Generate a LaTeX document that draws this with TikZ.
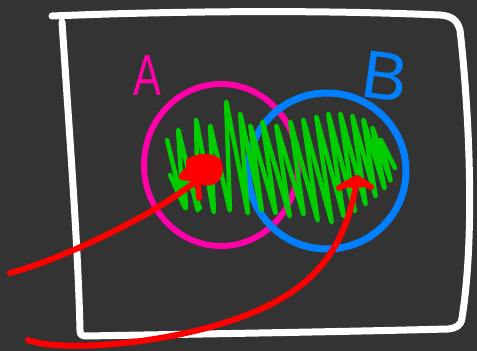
\documentclass[tikz,border=0pt]{standalone}
\usepackage{fontspec}
\setmainfont{Liberation Sans}
\usetikzlibrary{shapes.geometric}
\definecolor{bg}{HTML}{333333}
\definecolor{penpink}{HTML}{FF00AA}
\definecolor{penblue}{HTML}{0080FF}
\definecolor{pengreen}{HTML}{00CC00}
\definecolor{penred}{HTML}{FF0000}
\tikzset{
  frame/.style={draw=white, line width=7},
  ringA/.style={draw=penpink, line width=6, ellipse, inner sep=0pt},
  ringB/.style={draw=penblue, line width=7, ellipse, inner sep=0pt},
  scribble/.style={draw=pengreen, line width=4.5, rounded corners=3},
  redpen/.style={draw=penred, line width=6},
  lettertext/.style={inner sep=0pt}
}
\begin{document}
\begin{tikzpicture}[x=1pt,y=-1pt,line cap=round,line join=round]
\fill[bg] (0,0) rectangle (477,351);
\useasboundingbox (0,0) rectangle (477,351);
% frame
\draw[frame] (52,16) .. controls (150,12) and (300,9) .. (440,15)
  .. controls (452,16) and (457,20) .. (460,30)
  .. controls (468,100) and (476,230) .. (462,318)
  .. controls (461,326) and (456,328) .. (448,329)
  .. controls (330,332) and (200,334) .. (86,336)
  .. controls (81,336) and (80,334) .. (80,330)
  .. controls (78,250) and (72,170) .. (62,22);
% labels
\node[lettertext, text=penpink, font=\fontsize{58}{58}\selectfont] (labA) at (147,76) {\scalebox{0.72}[1]{A}};
\node[lettertext, text=penblue, font=\fontsize{68}{68}\selectfont, rotate=-8] (labB) at (385,76) {B};
% circles
\node[ringA, minimum width=154, minimum height=162] (circA) at (221,165) {};
\node[ringB, minimum width=158, minimum height=156] (circB) at (327,171) {};
% green scribble
\draw[scribble] (167,140) -- (183,205) -- (178,128) -- (198,212) -- (196,118)
  -- (214,214) -- (210,124) -- (230,212) -- (226,100) -- (248,215) -- (240,112)
  -- (262,212) -- (250,124) -- (276,215) -- (262,120) -- (290,218) -- (276,124)
  -- (304,216) -- (290,120) -- (318,222) -- (303,118) -- (332,224) -- (316,115)
  -- (344,218) -- (328,112) -- (355,213) -- (340,112) -- (366,206) -- (352,114)
  -- (376,198) -- (363,118) -- (385,190) -- (372,126) -- (391,182) -- (380,138)
  -- (395,168);
\draw[scribble] (170,175) -- (186,210) -- (184,170) -- (200,208);
% red arrow 1
\coordinate (a1s) at (10,273);
\coordinate (a1e) at (196,181);
\draw[redpen] (a1s) .. controls (50,262) and (100,240) .. (150,212)
  .. controls (170,200) and (185,190) .. (a1e);
\fill[penred] (186,160) .. controls (195,152) and (215,152) .. (221,160)
  .. controls (225,170) and (222,182) .. (212,185)
  .. controls (205,187) and (200,184) .. (196,182) -- (181,180)
  .. controls (176,178) and (180,172) .. (186,168) -- cycle;
\draw[redpen] (198,184) -- (199,198);
% red arrow 2
\coordinate (a2s) at (28,340);
\coordinate (a2e) at (357,178);
\draw[redpen] (a2s) .. controls (60,352) and (160,345) .. (233,320)
  .. controls (300,297) and (345,262) .. (a2e);
\fill[penred] (a2e) -- (339,188) -- (371,187) -- cycle;
\draw[redpen] (339,188) -- (a2e) -- (371,187);
\end{tikzpicture}
\end{document}
